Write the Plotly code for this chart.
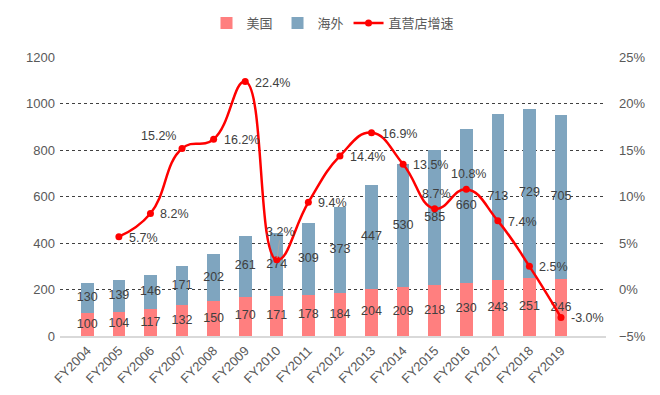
import plotly.graph_objects as go

years = ["FY2004","FY2005","FY2006","FY2007","FY2008","FY2009","FY2010","FY2011",
         "FY2012","FY2013","FY2014","FY2015","FY2016","FY2017","FY2018","FY2019"]
us = [100,104,117,132,150,170,171,178,184,204,209,218,230,243,251,246]
overseas = [130,139,146,171,202,261,274,309,373,447,530,585,660,713,729,705]
growth_years = years[1:]
growth = [5.7,8.2,15.2,16.2,22.4,3.2,9.4,14.4,16.9,13.5,8.7,10.8,7.4,2.5,-3.0]
# label placement for growth labels: r = right, tl = top-left, t = top, tlead = top with leader line
growth_place = ["r","r","tl","r","r","tlead","r","r","r","r","t","t","r","r","r"]

LBL_FAMILY = "Liberation Sans, Arial, sans-serif"
lbl_font = dict(family=LBL_FAMILY, size=12.5, color="#404040")

fig = go.Figure()
fig.add_trace(go.Bar(x=years, y=us, name="美国", marker=dict(color="#FF7F7F", line=dict(width=0)),
                     width=0.4, hoverinfo="y"))
fig.add_trace(go.Bar(x=years, y=overseas, name="海外", marker=dict(color="#7FA5BF", line=dict(width=0)),
                     width=0.4, hoverinfo="y"))
# bar value labels at segment midpoints
fig.add_trace(go.Scatter(x=years, y=[u / 2 for u in us], mode="text", text=[str(v) for v in us],
                         textposition="middle center", textfont=lbl_font, showlegend=False, hoverinfo="skip"))
fig.add_trace(go.Scatter(x=years, y=[u + o / 2 for u, o in zip(us, overseas)], mode="text",
                         text=[str(v) for v in overseas], textposition="middle center",
                         textfont=lbl_font, showlegend=False, hoverinfo="skip"))
fig.add_trace(go.Scatter(x=growth_years, y=growth, name="直营店增速", yaxis="y2",
                         mode="lines+markers", line=dict(color="#FF0000", width=2.5, shape="spline", smoothing=1.3),
                         marker=dict(color="#FF0000", size=7), cliponaxis=False))

annotations = []
for yr, g, p in zip(growth_years, growth, growth_place):
    a = dict(x=yr, y=g, xref="x", yref="y2", text=f"{g:.1f}%", showarrow=False, font=lbl_font)
    if p == "r":
        a.update(xanchor="left", yanchor="middle", xshift=8, yshift=-1)
    elif p == "tl":
        a.update(xanchor="right", yanchor="bottom", xshift=-4, yshift=3)
    elif p == "t":
        a.update(xanchor="center", yanchor="bottom", xshift=2, yshift=6)
    elif p == "tlead":
        a.update(showarrow=True, arrowhead=0, arrowwidth=1, arrowcolor="#A6A6A6",
                 ax=4, ay=-28, xanchor="center", yanchor="middle", standoff=2)
    annotations.append(a)

fig.update_layout(
    width=660, height=395, barmode="stack",
    margin=dict(l=52, r=62, t=41, b=67),
    paper_bgcolor="white", plot_bgcolor="white",
    font=dict(family="Liberation Sans, Arial, sans-serif", size=13, color="#595959"),
    legend=dict(orientation="h", x=0.5, xanchor="center", y=0.962, yref="container", yanchor="middle",
                font=dict(family="Noto Sans CJK SC", size=13, color="#595959"), traceorder="normal"),
    xaxis=dict(tickangle=-45, showline=True, linecolor="#D9D9D9", linewidth=2, ticks="",
               tickfont=dict(size=13, color="#595959")),
    yaxis=dict(range=[0,1200], dtick=200, showgrid=True, gridcolor="#404040", griddash="dot", gridwidth=1,
               zeroline=False, ticks="", tickfont=dict(size=13, color="#595959"), ticklabelstandoff=4),
    yaxis2=dict(range=[-5,25], dtick=5, overlaying="y", side="right", showgrid=False, zeroline=False,
                ticksuffix="%", tickfont=dict(size=13, color="#595959"), ticklabelstandoff=12),
    annotations=annotations,
)
fig.write_html("out.html")
